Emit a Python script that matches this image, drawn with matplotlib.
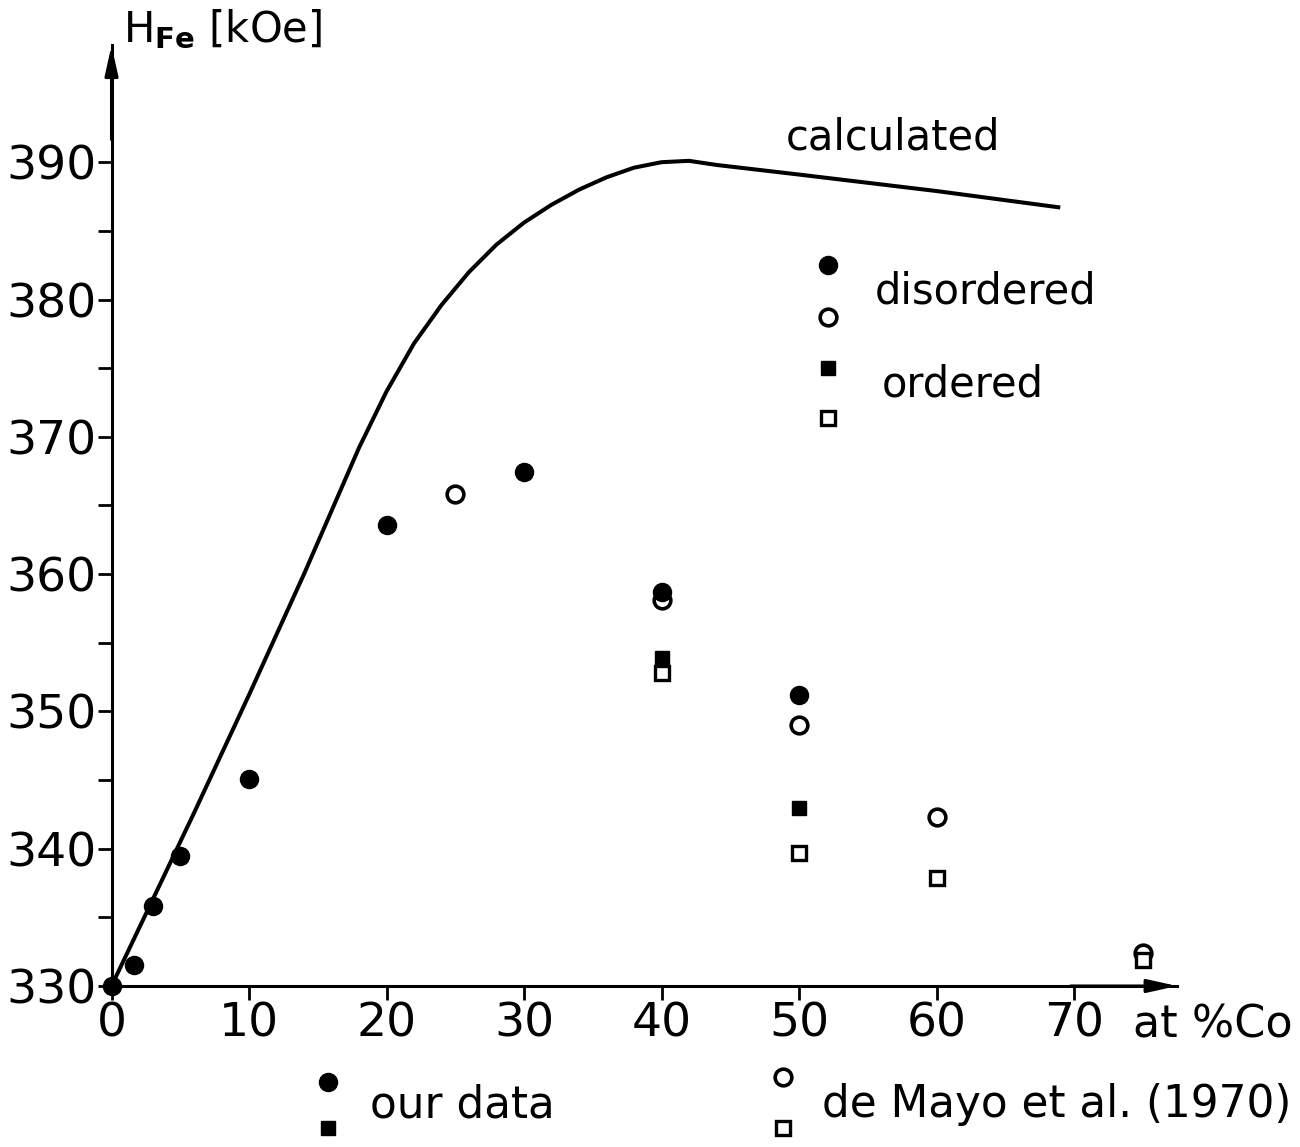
import matplotlib
matplotlib.use("Agg")
import matplotlib.pyplot as plt
import numpy as np

plt.rcParams['font.family'] = ['DejaVu Sans']

# calculated curve
calc_x = [0, 2, 4, 6, 8, 10, 12, 14, 16, 18, 20, 22, 24, 26, 28, 30, 32, 34, 36,
          38, 40, 42, 44, 50, 60, 69]
calc_y = [330, 334.2, 338.4, 342.6, 346.9, 351.2, 355.6, 360.0, 364.6, 369.2,
          373.3, 376.8, 379.6, 382.0, 384.0, 385.6, 386.9, 388.0, 388.9, 389.6,
          390.0, 390.1, 389.8, 389.1, 387.9, 386.7]

# our data, disordered (filled circles)
our_dis_x = [0, 1.6, 3, 5, 10, 20, 30, 40, 50]
our_dis_y = [330, 331.5, 335.8, 339.5, 345.1, 363.6, 367.4, 358.7, 351.2]
# our data, ordered (filled squares)
our_ord_x = [40, 50]
our_ord_y = [353.9, 343.0]
# de Mayo et al. (1970), disordered (open circles)
dm_dis_x = [25, 40, 50, 60, 75]
dm_dis_y = [365.8, 358.1, 349.0, 342.3, 332.4]
# de Mayo et al. (1970), ordered (open squares)
dm_ord_x = [40, 50, 60, 75]
dm_ord_y = [352.8, 339.7, 337.9, 331.9]

xticks = [0, 10, 20, 30, 40, 50, 60, 70]
yticks = [330, 340, 350, 360, 370, 380, 390]

W, H = 1300, 1147
fig = plt.figure(figsize=(W / 100, H / 100), dpi=100)
x0, sx = 111.5, 13.75
y0, sy = 986, 13.73
xmax, ymax = 77.5, 398.5
left = x0 / W
bottom = 1 - y0 / H
width = xmax * sx / W
height = (ymax - 330) * sy / H
ax = fig.add_axes([left, bottom, width, height])
ax.set_xlim(0, xmax)
ax.set_ylim(330, ymax)

for s in ['top', 'right']:
    ax.spines[s].set_visible(False)
for s in ['left', 'bottom']:
    ax.spines[s].set_linewidth(2.2)
    ax.spines[s].set_zorder(1)

ax.set_xticks(xticks)
ax.set_xticklabels([str(v) for v in xticks])
ax.set_yticks(yticks)
ax.set_yticklabels([str(v) for v in yticks])
ax.set_yticks(np.arange(335, 395, 10), minor=True)
ax.tick_params(axis='both', which='major', direction='out', length=10, width=2,
               labelsize=34, pad=1)
ax.tick_params(axis='y', which='minor', direction='out', length=10, width=2)

# arrows on axes ends
ax.annotate('', xy=(1.0, 0), xytext=(0.9, 0), xycoords='axes fraction',
            arrowprops=dict(arrowstyle='-|>,head_length=1.8,head_width=0.4',
                            color='k', lw=2.2, shrinkA=0, shrinkB=0))
ax.annotate('', xy=(0, 1.0), xytext=(0, 0.9), xycoords='axes fraction',
            arrowprops=dict(arrowstyle='-|>,head_length=1.8,head_width=0.4',
                            color='k', lw=2.2, shrinkA=0, shrinkB=0))

ax.plot(calc_x, calc_y, color='k', lw=2.9, solid_capstyle='butt',
        solid_joinstyle='round', zorder=2)

ax.plot(dm_dis_x, dm_dis_y, 'o', ms=12, mfc='white', mec='k', mew=2.6, ls='none',
        clip_on=False, zorder=3)
ax.plot(dm_ord_x, dm_ord_y, 's', ms=10.5, mfc='white', mec='k', mew=2.4, ls='none',
        clip_on=False, zorder=3)
ax.plot(our_dis_x, our_dis_y, 'o', ms=13, mfc='k', mec='k', ls='none',
        clip_on=False, zorder=4)
ax.plot(our_ord_x, our_ord_y, 's', ms=10.5, mfc='k', mec='k', ls='none',
        clip_on=False, zorder=4)

# in-plot labels / key
ax.text(49.0, 391.8, 'calculated', fontsize=30, va='center', ha='left')
ax.plot([52.1], [382.5], 'o', ms=13, mfc='k', mec='k')
ax.plot([52.1], [378.7], 'o', ms=12, mfc='white', mec='k', mew=2.6)
ax.plot([52.1], [375.0], 's', ms=10.5, mfc='k', mec='k')
ax.plot([52.1], [371.4], 's', ms=10.5, mfc='white', mec='k', mew=2.4)
ax.text(55.5, 380.6, 'disordered', fontsize=30, va='center', ha='left')
ax.text(56.0, 373.8, 'ordered', fontsize=30, va='center', ha='left')

# axis titles
fig.text(123 / W, 1 - 30 / H, r'H$_{\mathbf{Fe}}$ [kOe]', fontsize=30,
         va='center', ha='left')
fig.text(1133 / W, 1 - 1025 / H, 'at %Co', fontsize=32, va='center', ha='left')

# bottom key
fig.add_artist(plt.Line2D([328 / W], [1 - 1082 / H], marker='o', ms=13,
                          mfc='k', mec='k', ls='none'))
fig.add_artist(plt.Line2D([328 / W], [1 - 1128 / H], marker='s', ms=10.5,
                          mfc='k', mec='k', ls='none'))
fig.add_artist(plt.Line2D([783 / W], [1 - 1077 / H], marker='o', ms=12,
                          mfc='white', mec='k', mew=2.6, ls='none'))
fig.add_artist(plt.Line2D([783 / W], [1 - 1128 / H], marker='s', ms=10.5,
                          mfc='white', mec='k', mew=2.4, ls='none'))
fig.text(370 / W, 1 - 1105 / H, 'our data', fontsize=31.5, va='center', ha='left')
fig.text(822 / W, 1 - 1105 / H, 'de Mayo et al. (1970)', fontsize=31.5,
         va='center', ha='left')

fig.savefig('out.png', dpi=100, facecolor='white')
